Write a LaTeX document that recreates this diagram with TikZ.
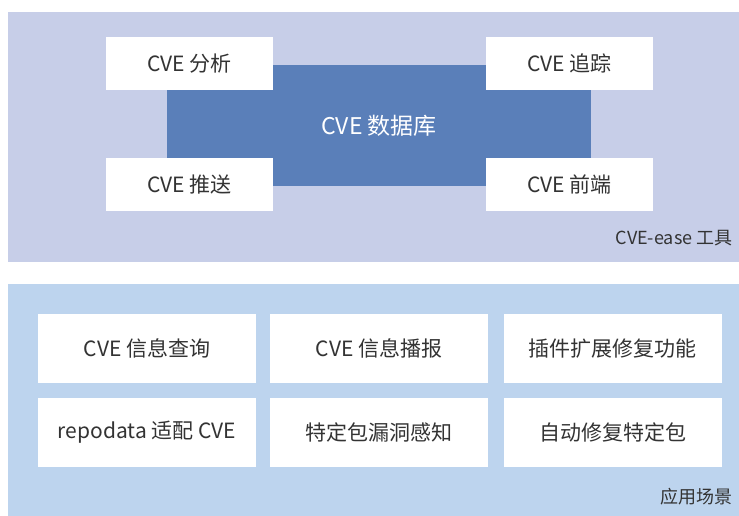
\documentclass[tikz,border=0pt]{standalone}
\usepackage{fontspec}
\setmainfont{Noto Sans CJK SC}
\definecolor{toppanel}{HTML}{C7CEE8}
\definecolor{botpanel}{HTML}{BDD4EE}
\definecolor{dbblue}{HTML}{5A7FB9}
\definecolor{txt}{HTML}{333333}
\tikzset{
  wbox/.style={fill=white,draw=none,text=txt,font=\fontsize{21}{23}\selectfont},
  lbl/.style={text=txt,font=\fontsize{18}{20}\selectfont,anchor=east}
}
\begin{document}
\begin{tikzpicture}[x=1pt,y=-1pt]
\useasboundingbox (0,0) rectangle (739,516);
% top panel
\fill[toppanel] (8,12) rectangle (739,262);
\fill[dbblue] (167,65) rectangle (591,186);
\node[text=white,font=\fontsize{23}{25}\selectfont] (db) at (379,125.5) {CVE 数据库};
\node[wbox,minimum width=167pt,minimum height=53pt] (a1) at (189.5,63.5) {CVE 分析};
\node[wbox,minimum width=167pt,minimum height=53pt] (a2) at (569.5,63.5) {CVE 追踪};
\node[wbox,minimum width=167pt,minimum height=53pt] (a3) at (189.5,184.5) {CVE 推送};
\node[wbox,minimum width=167pt,minimum height=53pt] (a4) at (569.5,184.5) {CVE 前端};
\node[lbl] (t1) at (736,238) {CVE-ease 工具};
% bottom panel
\fill[botpanel] (8,284) rectangle (739,516);
\node[wbox,minimum width=218pt,minimum height=69pt] (b1) at (147,348.5) {CVE 信息查询};
\node[wbox,minimum width=218pt,minimum height=69pt] (b2) at (379,348.5) {CVE 信息播报};
\node[wbox,minimum width=218pt,minimum height=69pt] (b3) at (612.5,348.5) {插件扩展修复功能};
\node[wbox,minimum width=218pt,minimum height=69pt] (b4) at (147,432.5) {repodata 适配 CVE};
\node[wbox,minimum width=218pt,minimum height=69pt] (b5) at (379,432.5) {特定包漏洞感知};
\node[wbox,minimum width=218pt,minimum height=69pt] (b6) at (612.5,432.5) {自动修复特定包};
\node[lbl] (t2) at (736,497) {应用场景};
\end{tikzpicture}
\end{document}
